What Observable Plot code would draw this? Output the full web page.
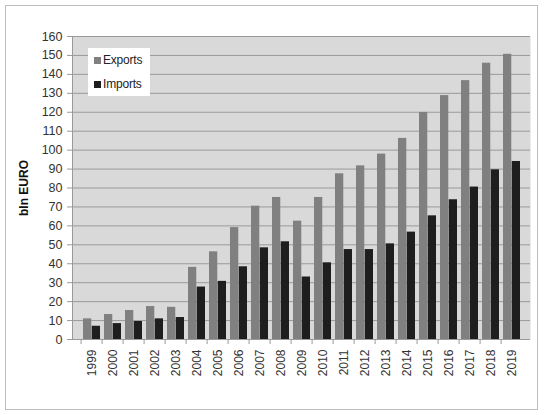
<!DOCTYPE html>
<html><head><meta charset="utf-8">
<script src="https://cdn.jsdelivr.net/npm/d3@7"></script>
<script src="https://cdn.jsdelivr.net/npm/@observablehq/plot@0.6"></script>
<style>
body{margin:0;background:#fff;font-family:"Liberation Sans",Arial,sans-serif;}
#wrap{position:relative;width:550px;height:415px;}
#border{position:absolute;left:5px;top:5px;width:531px;height:403px;border:1px solid #bdbdbd;pointer-events:none;}
#legend{position:absolute;left:88px;top:48px;width:62px;height:48px;background:#fff;font-size:12px;color:#222;}
.li{position:absolute;left:6px;display:flex;align-items:center;letter-spacing:-0.2px;}
.sw{width:7px;height:7px;margin-right:2px;}
</style></head>
<body><div id="wrap"><div id="border"></div><div id="legend">
<div class="li" style="top:5px"><span class="sw" style="background:#808080"></span>Exports</div>
<div class="li" style="top:29px"><span class="sw" style="background:#1e1e1e"></span>Imports</div>
</div></div>
<script>
const years = ["1999","2000","2001","2002","2003","2004","2005","2006","2007","2008","2009","2010","2011","2012","2013","2014","2015","2016","2017","2018","2019"];
const exportsV = [10.9,13.2,15.3,17.4,17.0,38.1,46.3,59.1,70.4,75.0,62.5,75.0,87.5,91.7,97.9,106.2,119.9,128.8,136.7,145.9,150.6];
const importsV = [7.0,8.4,9.5,10.9,11.6,27.7,30.7,38.4,48.4,51.6,33.0,40.5,47.5,47.5,50.5,56.7,65.3,73.8,80.5,89.6,94.0];
const yTicks = d3.range(0,161,10);

const W=550,H=415,mL=72,mR=20,mT=36,mB=76;
const pin=0.2,pout=0.1;
const step=(W-mL-mR)/(years.length-pin+2*pout);
const bw=step*(1-pin);

const ex = years.map((y,i)=>({year:y,value:exportsV[i]}));
const im = years.map((y,i)=>({year:y,value:importsV[i]}));

const chart = Plot.plot({
  width:W,height:H,marginLeft:mL,marginRight:mR,marginTop:mT,marginBottom:mB,
  style:{fontFamily:"Liberation Sans, Arial, sans-serif",fontSize:"12px",color:"#333",background:"transparent"},
  x:{domain:years,paddingInner:pin,paddingOuter:pout,label:null},
  y:{domain:[0,160],label:null},
  marks:[
    Plot.frame({fill:"#d9d9d9"}),
    Plot.gridY(yTicks,{stroke:"#9a9a9a",strokeOpacity:1}),
    Plot.frame({anchor:"left",stroke:"#9a9a9a"}),
    Plot.barY(ex,{x:"year",y:"value",fill:"#808080",insetRight:bw/2}),
    Plot.barY(im,{x:"year",y:"value",fill:"#1e1e1e",insetLeft:bw/2}),
    Plot.axisY({ticks:yTicks,tickSize:5,tickPadding:5,stroke:"#9a9a9a",label:null,fill:"#333",fontSize:12.5}),
    Plot.axisX({tickSize:5,dx:-step/2,text:null,stroke:"#9a9a9a",label:null}),
    Plot.axisX({tickSize:0,tickPadding:10,tickRotate:-90,label:null,fill:"#333",fontSize:12}),
    Plot.text(["bln EURO"],{frameAnchor:"left",textAnchor:"middle",dx:-48,rotate:-90,fontWeight:"bold",fontSize:12,fill:"#111"})
  ]
});
document.getElementById("wrap").prepend(chart);
</script></body></html>
